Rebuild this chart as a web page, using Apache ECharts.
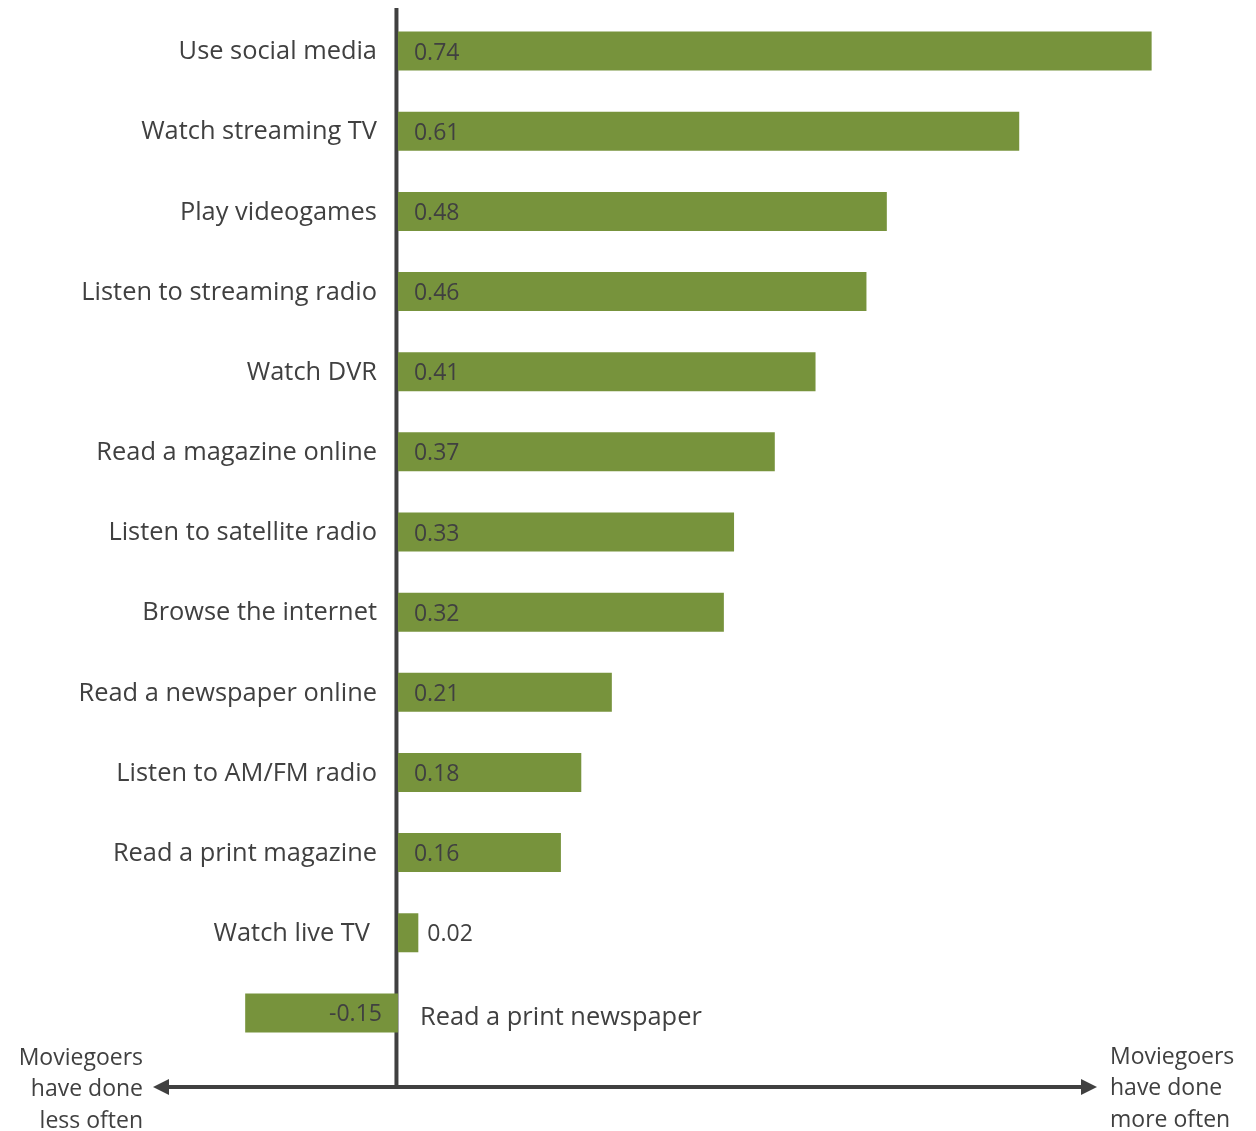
<!DOCTYPE html>
<html>
<head>
<meta charset="utf-8">
<script src="https://cdn.jsdelivr.net/npm/echarts@6/dist/echarts.min.js"></script>
<style>
  html, body { margin: 0; padding: 0; background: #fff; }
  #chart { width: 1256px; height: 1131px; }
</style>
</head>
<body>
<div id="chart"></div>
<script>
// Activities, top to bottom, and how much more often moviegoers did them
const categories = [
  'Use social media', 'Watch streaming TV', 'Play videogames',
  'Listen to streaming radio', 'Watch DVR', 'Read a magazine online',
  'Listen to satellite radio', 'Browse the internet', 'Read a newspaper online',
  'Listen to AM/FM radio', 'Read a print magazine', 'Watch live TV',
  'Read a print newspaper'
];
const values = [0.74, 0.61, 0.48, 0.46, 0.41, 0.37, 0.33, 0.32, 0.21, 0.18, 0.16, 0.02, -0.15];
const leftNote = ['Moviegoers', 'have done', 'less often'];
const rightNote = ['Moviegoers', 'have done', 'more often'];

const FONT = '"Open Sans", sans-serif';
const TEXT = '#404040';
const GREEN = '#77933C';

const chart = echarts.init(document.getElementById('chart'));

// value labels: inside the bar unless the bar is too short
function valueLabel(v) {
  if (v < 0) return { position: 'insideRight', distance: 16 };
  if (v < 0.05) return { position: 'right', distance: 9 };
  return { position: 'insideLeft', distance: 16 };
}
// category labels sit next to the zero line, on the side away from the bar
function nameLabel(v) {
  if (v < 0) return { position: 'right', distance: 22, offset: [0, 5] };
  if (v < 0.05) return { position: 'left', distance: 28 };
  return { position: 'left', distance: 21 };
}

chart.setOption({
  animation: false,
  backgroundColor: '#fff',
  grid: { left: 235, right: 84, top: 11, bottom: 78, containLabel: false },
  xAxis: {
    type: 'value', min: -0.16, max: 0.76,
    show: false, splitLine: { show: false }
  },
  yAxis: {
    type: 'category', data: categories, inverse: true,
    axisLine: { show: false }, axisTick: { show: false },
    axisLabel: { show: false }, splitLine: { show: false }
  },
  series: [
    {
      type: 'bar',
      barWidth: 39,
      data: values.map(v => ({
        value: v,
        label: valueLabel(v)
      })),
      itemStyle: { color: GREEN },
      label: {
        show: true,
        color: TEXT,
        fontFamily: FONT,
        fontSize: 23,
        offset: [0, 2],
        formatter: p => p.value.toFixed(2)
      }
    },
    {
      type: 'bar',
      barWidth: 39,
      barGap: '-100%',
      silent: true,
      data: values.map(v => ({
        value: v,
        label: nameLabel(v)
      })),
      itemStyle: { color: 'rgba(0,0,0,0)' },
      label: {
        show: true,
        color: TEXT,
        fontFamily: FONT,
        fontSize: 25.4,
        offset: [0, 1],
        formatter: '{b}'
      }
    }
  ]
});

// zero line and the two-headed arrow underneath
const zeroX = chart.convertToPixel({ xAxisIndex: 0 }, 0) - 1.5;
const arrowY = 1087;
const graphics = [
  {
    type: 'line',
    shape: { x1: zeroX, y1: 8, x2: zeroX, y2: arrowY + 2 },
    style: { stroke: '#404040', lineWidth: 4 }
  },
  {
    type: 'line',
    shape: { x1: 165, y1: arrowY, x2: 1085, y2: arrowY },
    style: { stroke: '#404040', lineWidth: 4 }
  },
  {
    type: 'polygon',
    shape: { points: [[153, arrowY], [169, arrowY - 8], [169, arrowY + 8]] },
    style: { fill: '#404040' }
  },
  {
    type: 'polygon',
    shape: { points: [[1097, arrowY], [1081, arrowY - 8], [1081, arrowY + 8]] },
    style: { fill: '#404040' }
  }
];
leftNote.forEach((t, i) => graphics.push({
  type: 'text',
  style: {
    text: t, x: 143, y: 1058 + i * 31.5, align: 'right', verticalAlign: 'middle',
    font: '23px ' + FONT, fill: TEXT
  }
}));
rightNote.forEach((t, i) => graphics.push({
  type: 'text',
  style: {
    text: t, x: 1110, y: 1057 + i * 31.5, align: 'left', verticalAlign: 'middle',
    font: '23px ' + FONT, fill: TEXT
  }
}));
chart.setOption({ graphic: graphics });
</script>
</body>
</html>
